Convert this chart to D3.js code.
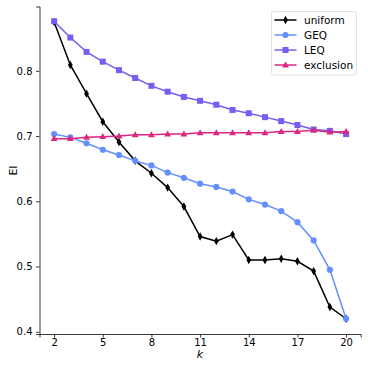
<!DOCTYPE html>
<html>
<head>
<meta charset="utf-8">
<script src="https://cdn.jsdelivr.net/npm/d3@7"></script>
<style>
  body { margin: 0; background: #fff; }
  text { font-family: "DejaVu Sans", sans-serif; }
</style>
</head>
<body>
<script>
// k values and the four series
var ks = [2, 3, 4, 5, 6, 7, 8, 9, 10, 11, 12, 13, 14, 15, 16, 17, 18, 19, 20];
var uniform = [0.875, 0.809, 0.765, 0.722, 0.691, 0.662, 0.643, 0.621, 0.592, 0.546, 0.539, 0.549, 0.510, 0.510, 0.512, 0.508, 0.493, 0.438, 0.420];
var geq = [0.703, 0.698, 0.689, 0.679, 0.671, 0.662, 0.655, 0.644, 0.636, 0.627, 0.622, 0.615, 0.603, 0.595, 0.585, 0.568, 0.540, 0.495, 0.420];
var leq = [0.876, 0.851, 0.829, 0.814, 0.801, 0.789, 0.777, 0.768, 0.760, 0.754, 0.748, 0.740, 0.735, 0.729, 0.723, 0.717, 0.710, 0.708, 0.703];
var exclusion = [0.696, 0.696, 0.698, 0.699, 0.700, 0.702, 0.702, 0.703, 0.703, 0.705, 0.705, 0.705, 0.705, 0.705, 0.707, 0.707, 0.709, 0.706, 0.707];

var xTicks = [2, 5, 8, 11, 14, 17, 20];
var yTicks = [0.4, 0.5, 0.6, 0.7, 0.8];

var series = [
  {name: "uniform", values: uniform, color: "#000000", marker: "diamond"},
  {name: "GEQ", values: geq, color: "#648fff", marker: "circle"},
  {name: "LEQ", values: leq, color: "#785ef0", marker: "square"},
  {name: "exclusion", values: exclusion, color: "#dc267f", marker: "triangle"}
];

var W = 368, H = 368;
var svg = d3.select("body").append("svg")
    .attr("width", W)
    .attr("height", H);

var x = d3.scaleLinear().domain([1.1, 20.9]).range([39.5, 360.7]);
var y = d3.scaleLinear().domain([0.3966, 0.8986]).range([334, 6.5]);

function markerPath(type) {
  if (type === "diamond") return "M0,-4.2L2.4,0L0,4.2L-2.4,0Z";
  if (type === "circle") return d3.symbol(d3.symbolCircle, 30)();
  if (type === "square") return "M-3,-3H3V3H-3Z";
  return "M0,-3.6L3.4,2.4H-3.4Z";
}

// axes
var xAxis = svg.append("g")
    .attr("transform", "translate(0,334)")
    .call(d3.axisBottom(x).tickValues(xTicks).tickFormat(d3.format("d")).tickSize(3.5).tickPadding(1.5));
var yAxis = svg.append("g")
    .attr("transform", "translate(39.5,0)")
    .call(d3.axisLeft(y).tickValues(yTicks).tickFormat(d3.format(".1f")).tickSize(3.5).tickPadding(3.5));

[xAxis, yAxis].forEach(function(g) {
  g.select(".domain").attr("stroke", "#222").attr("stroke-width", 0.9);
  g.selectAll(".tick line").attr("stroke", "#222").attr("stroke-width", 0.9);
  g.selectAll(".tick text").attr("font-size", 10).attr("fill", "#000")
    .attr("font-family", "DejaVu Sans, sans-serif");
});

svg.append("text")
    .attr("x", 200)
    .attr("y", 358)
    .attr("text-anchor", "middle")
    .attr("font-size", 11)
    .attr("font-style", "italic")
    .text("k");

svg.append("text")
    .attr("transform", "translate(16.5,170.5) rotate(-90)")
    .attr("text-anchor", "middle")
    .attr("font-size", 11)
    .text("EI");

// lines + markers
var line = d3.line()
    .x(function(d, i) { return x(ks[i]); })
    .y(function(d) { return y(d); });

series.forEach(function(s) {
  svg.append("path")
      .datum(s.values)
      .attr("fill", "none")
      .attr("stroke", s.color)
      .attr("stroke-width", 1.5)
      .attr("d", line);
  svg.append("g").selectAll("path")
      .data(s.values)
      .enter()
      .append("path")
      .attr("transform", function(d, i) { return "translate(" + x(ks[i]) + "," + y(d) + ")"; })
      .attr("d", markerPath(s.marker))
      .attr("fill", s.color);
});

// legend
var legend = svg.append("g");
legend.append("rect")
    .attr("x", 271.5)
    .attr("y", 11.5)
    .attr("width", 85)
    .attr("height", 63.5)
    .attr("rx", 2.5)
    .attr("fill", "#fff")
    .attr("fill-opacity", 0.8)
    .attr("stroke", "#ddd")
    .attr("stroke-width", 0.9);

var entries = legend.selectAll("g.entry")
    .data(series)
    .enter()
    .append("g")
    .attr("transform", function(d, i) { return "translate(0," + (20 + i * 15) + ")"; });
entries.append("line")
    .attr("x1", 274.5).attr("x2", 296.5)
    .attr("stroke", function(d) { return d.color; })
    .attr("stroke-width", 1.5);
entries.append("path")
    .attr("transform", "translate(285.5,0)")
    .attr("d", function(d) { return markerPath(d.marker); })
    .attr("fill", function(d) { return d.color; });
entries.append("text")
    .attr("x", 304)
    .attr("y", 3.8)
    .attr("font-size", 10.5)
    .text(function(d) { return d.name; });
</script>
</body>
</html>
